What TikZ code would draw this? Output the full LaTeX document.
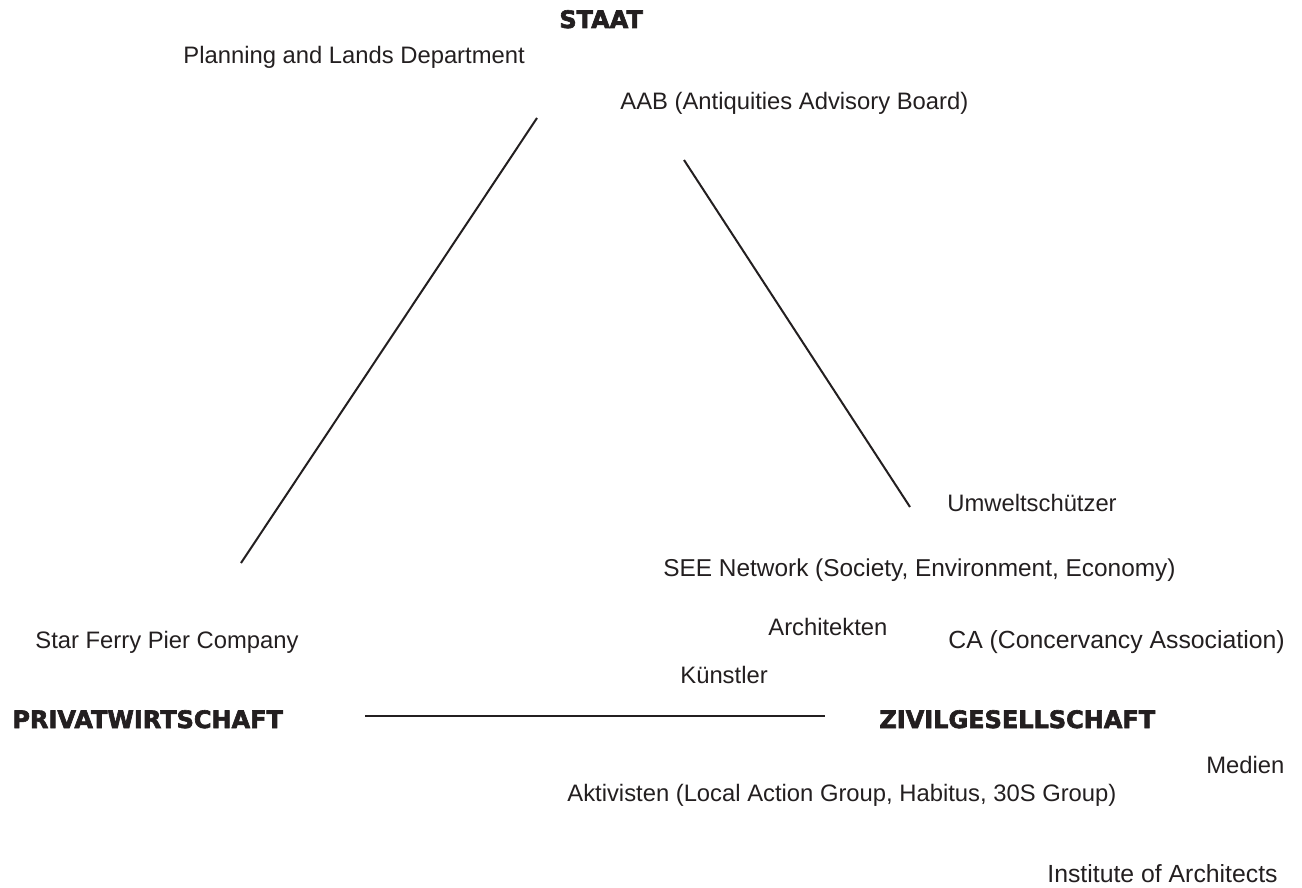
\documentclass[tikz,border=0pt]{standalone}
\usepackage{fontspec}
\setmainfont{Liberation Sans}
\newfontfamily\headfont[FakeBold=2.6]{DejaVu Sans Bold}
\usepackage{tikz}
\definecolor{ink}{HTML}{231F20}
\tikzset{actor/.style={anchor=base west,inner sep=0pt,text=ink,
  font=\fontsize{11.9}{14}\selectfont},
  wideactor/.style={actor,font=\fontsize{12.4}{14}\selectfont},
  sector/.style={actor,font=\headfont\fontsize{12}{14}\selectfont},
  tie/.style={draw=ink,line width=1pt},
  base/.style={tie,line width=1.4pt}}

\begin{document}
\begin{tikzpicture}[x=0.5pt,y=-0.5pt]
\useasboundingbox (0,0) rectangle (1302,888);
\node[sector] (staat) at (559,28) {STAAT};
\node[sector] (privat) at (12,728) {PRIVATWIRTSCHAFT};
\node[sector] (zivil) at (879,728) {ZIVILGESELLSCHAFT};
\node[actor] (pland) at (183,64) {Planning and Lands Department};
\node[actor] (aab) at (620,110) {AAB (Antiquities Advisory Board)};
\node[actor] (umwelt) at (947,511) {Umweltschützer};
\node[actor,font=\fontsize{12.2}{14}\selectfont] (see) at (663,576)
  {SEE Network (Society, Environment, Economy)};
\node[actor] (archi) at (768,635) {Architekten};
\node[wideactor] (ca) at (948,648) {CA (Concervancy Association)};
\node[actor] (ferry) at (35,648) {Star Ferry Pier Company};
\node[actor] (kuenstler) at (680,683) {Künstler};
\node[actor] (medien) at (1206,773) {Medien};
\node[actor] (aktiv) at (567,801) {Aktivisten (Local Action Group, Habitus, 30S Group)};
\node[wideactor] (inst) at (1047,882) {Institute of Architects};
\coordinate (sl) at (537,118);
\coordinate (pl) at (241,563);
\coordinate (sr) at (684,160);
\coordinate (zr) at (910,507);
\coordinate (pb) at (365,716);
\coordinate (zb) at (825,716);
\draw[tie] (pl) -- (sl);
\draw[tie] (sr) -- (zr);
\draw[base] (pb) -- (zb);
\end{tikzpicture}
\end{document}
